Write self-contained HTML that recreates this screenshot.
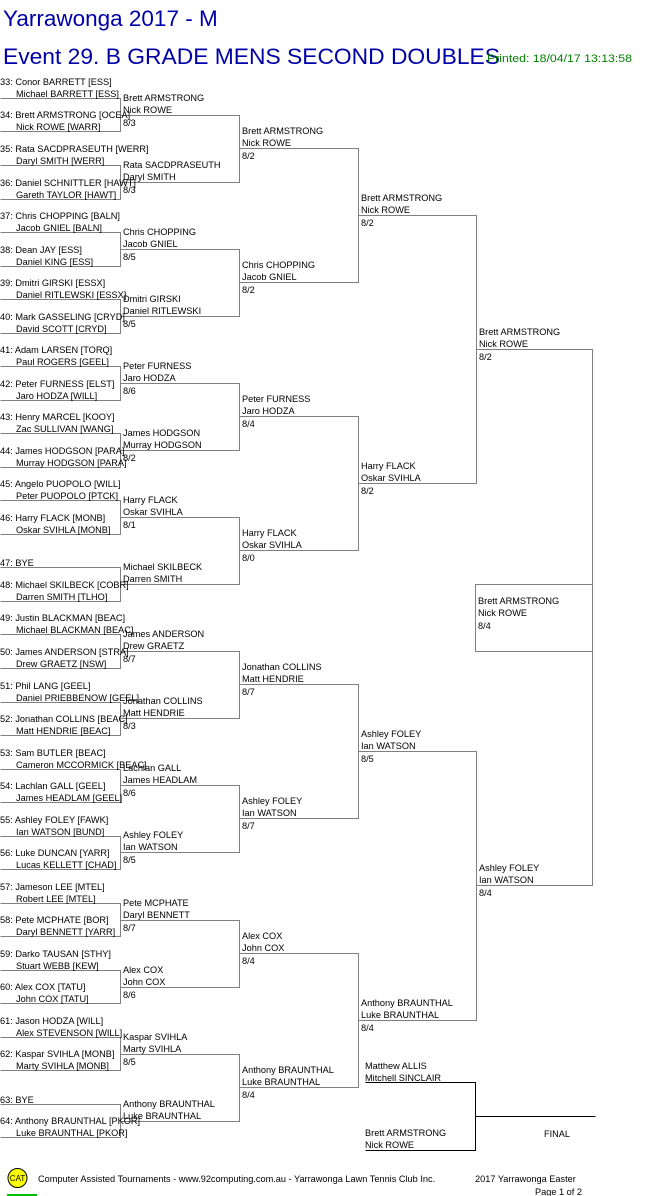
<!DOCTYPE html>
<html><head><meta charset="utf-8"><style>
html,body{margin:0;padding:0;background:#fff;width:661px;height:1196px;overflow:hidden}
svg{display:block}
text{font-family:"Liberation Sans",Arial,sans-serif;font-size:9.2px;fill:#000}
</style></head><body>
<svg width="661" height="1196" viewBox="0 0 661 1196" xmlns="http://www.w3.org/2000/svg">
<text x="3" y="26" style="font-size:22.5px;fill:#0000a8">Yarrawonga 2017 - M</text>
<text x="3" y="64" style="font-size:22px;fill:#0000a8" textLength="497" lengthAdjust="spacingAndGlyphs">Event 29. B GRADE MENS SECOND DOUBLES</text>
<text x="487" y="62" style="font-size:11px;fill:#008000" textLength="145" lengthAdjust="spacingAndGlyphs">Printed: 18/04/17 13:13:58</text>

<g transform="translate(0.5,0.5)" fill="none" stroke="#808080" stroke-width="1">
<path d="M0 98H120V131H0 M0 165H120V199H0 M0 232H120V266H0 M0 299H120V333H0 M0 366H120V400H0 M0 433H120V467H0 M0 500H120V534H0 M0 567H120V601H0 M0 634H120V668H0 M0 702H120V735H0 M0 769H120V802H0 M0 836H120V869H0 M0 903H120V936H0 M0 970H120V1003H0 M0 1037H120V1070H0 M0 1104H120V1137H0"/>
<path d="M120 115H239V182H120 M120 249H239V316H120 M120 383H239V450H120 M120 517H239V584H120 M120 651H239V718H120 M120 785H239V852H120 M120 920H239V987H120 M120 1054H239V1121H120"/>
<path d="M239 148H358V282H239 M239 416H358V550H239 M239 684H358V818H239 M239 953H358V1087H239"/>
<path d="M358 215H476V483H358 M358 751H476V1020H358"/>
<path d="M476 349H592V885H476"/>
<path d="M592 584H475V651H592"/>
</g>
<g transform="translate(0.5,0.5)" fill="none" stroke="#000" stroke-width="1">
<path d="M365 1082H475V1150H365 M475 1116H595"/>
</g>

<text x="0" y="85">33: Conor BARRETT [ESS]</text><text x="16" y="97">Michael BARRETT [ESS]</text>
<text x="0" y="118">34: Brett ARMSTRONG [OCEA]</text><text x="16" y="130">Nick ROWE [WARR]</text>
<text x="0" y="152">35: Rata SACDPRASEUTH [WERR]</text><text x="16" y="164">Daryl SMITH [WERR]</text>
<text x="0" y="186">36: Daniel SCHNITTLER [HAWT]</text><text x="16" y="198">Gareth TAYLOR [HAWT]</text>
<text x="0" y="219">37: Chris CHOPPING [BALN]</text><text x="16" y="231">Jacob GNIEL [BALN]</text>
<text x="0" y="253">38: Dean JAY [ESS]</text><text x="16" y="265">Daniel KING [ESS]</text>
<text x="0" y="286">39: Dmitri GIRSKI [ESSX]</text><text x="16" y="298">Daniel RITLEWSKI [ESSX]</text>
<text x="0" y="320">40: Mark GASSELING [CRYD]</text><text x="16" y="332">David SCOTT [CRYD]</text>
<text x="0" y="353">41: Adam LARSEN [TORQ]</text><text x="16" y="365">Paul ROGERS [GEEL]</text>
<text x="0" y="387">42: Peter FURNESS [ELST]</text><text x="16" y="399">Jaro HODZA [WILL]</text>
<text x="0" y="420">43: Henry MARCEL [KOOY]</text><text x="16" y="432">Zac SULLIVAN [WANG]</text>
<text x="0" y="454">44: James HODGSON [PARA]</text><text x="16" y="466">Murray HODGSON [PARA]</text>
<text x="0" y="487">45: Angelo PUOPOLO [WILL]</text><text x="16" y="499">Peter PUOPOLO [PTCK]</text>
<text x="0" y="521">46: Harry FLACK [MONB]</text><text x="16" y="533">Oskar SVIHLA [MONB]</text>
<text x="0" y="566">47: BYE</text>
<text x="0" y="588">48: Michael SKILBECK [COBR]</text><text x="16" y="600">Darren SMITH [TLHO]</text>
<text x="0" y="621">49: Justin BLACKMAN [BEAC]</text><text x="16" y="633">Michael BLACKMAN [BEAC]</text>
<text x="0" y="655">50: James ANDERSON [STRA]</text><text x="16" y="667">Drew GRAETZ [NSW]</text>
<text x="0" y="689">51: Phil LANG [GEEL]</text><text x="16" y="701">Daniel PRIEBBENOW [GEEL]</text>
<text x="0" y="722">52: Jonathan COLLINS [BEAC]</text><text x="16" y="734">Matt HENDRIE [BEAC]</text>
<text x="0" y="756">53: Sam BUTLER [BEAC]</text><text x="16" y="768">Cameron MCCORMICK [BEAC]</text>
<text x="0" y="789">54: Lachlan GALL [GEEL]</text><text x="16" y="801">James HEADLAM [GEEL]</text>
<text x="0" y="823">55: Ashley FOLEY [FAWK]</text><text x="16" y="835">Ian WATSON [BUND]</text>
<text x="0" y="856">56: Luke DUNCAN [YARR]</text><text x="16" y="868">Lucas KELLETT [CHAD]</text>
<text x="0" y="890">57: Jameson LEE [MTEL]</text><text x="16" y="902">Robert LEE [MTEL]</text>
<text x="0" y="923">58: Pete MCPHATE [BOR]</text><text x="16" y="935">Daryl BENNETT [YARR]</text>
<text x="0" y="957">59: Darko TAUSAN [STHY]</text><text x="16" y="969">Stuart WEBB [KEW]</text>
<text x="0" y="990">60: Alex COX [TATU]</text><text x="16" y="1002">John COX [TATU]</text>
<text x="0" y="1024">61: Jason HODZA [WILL]</text><text x="16" y="1036">Alex STEVENSON [WILL]</text>
<text x="0" y="1057">62: Kaspar SVIHLA [MONB]</text><text x="16" y="1069">Marty SVIHLA [MONB]</text>
<text x="0" y="1103">63: BYE</text>
<text x="0" y="1124">64: Anthony BRAUNTHAL [PKOR]</text><text x="16" y="1136">Luke BRAUNTHAL [PKOR]</text>

<text x="123" y="101">Brett ARMSTRONG</text><text x="123" y="113">Nick ROWE</text><text x="123" y="126">8/3</text>
<text x="123" y="168">Rata SACDPRASEUTH</text><text x="123" y="180">Daryl SMITH</text><text x="123" y="193">8/3</text>
<text x="123" y="235">Chris CHOPPING</text><text x="123" y="247">Jacob GNIEL</text><text x="123" y="260">8/5</text>
<text x="123" y="302">Dmitri GIRSKI</text><text x="123" y="314">Daniel RITLEWSKI</text><text x="123" y="327">8/5</text>
<text x="123" y="369">Peter FURNESS</text><text x="123" y="381">Jaro HODZA</text><text x="123" y="394">8/6</text>
<text x="123" y="436">James HODGSON</text><text x="123" y="448">Murray HODGSON</text><text x="123" y="461">8/2</text>
<text x="123" y="503">Harry FLACK</text><text x="123" y="515">Oskar SVIHLA</text><text x="123" y="528">8/1</text>
<text x="123" y="570">Michael SKILBECK</text><text x="123" y="582">Darren SMITH</text>
<text x="123" y="637">James ANDERSON</text><text x="123" y="649">Drew GRAETZ</text><text x="123" y="662">8/7</text>
<text x="123" y="704">Jonathan COLLINS</text><text x="123" y="716">Matt HENDRIE</text><text x="123" y="729">8/3</text>
<text x="123" y="771">Lachlan GALL</text><text x="123" y="783">James HEADLAM</text><text x="123" y="796">8/6</text>
<text x="123" y="838">Ashley FOLEY</text><text x="123" y="850">Ian WATSON</text><text x="123" y="863">8/5</text>
<text x="123" y="906">Pete MCPHATE</text><text x="123" y="918">Daryl BENNETT</text><text x="123" y="931">8/7</text>
<text x="123" y="973">Alex COX</text><text x="123" y="985">John COX</text><text x="123" y="998">8/6</text>
<text x="123" y="1040">Kaspar SVIHLA</text><text x="123" y="1052">Marty SVIHLA</text><text x="123" y="1065">8/5</text>
<text x="123" y="1107">Anthony BRAUNTHAL</text><text x="123" y="1119">Luke BRAUNTHAL</text>

<text x="242" y="134">Brett ARMSTRONG</text><text x="242" y="146">Nick ROWE</text><text x="242" y="159">8/2</text>
<text x="242" y="268">Chris CHOPPING</text><text x="242" y="280">Jacob GNIEL</text><text x="242" y="293">8/2</text>
<text x="242" y="402">Peter FURNESS</text><text x="242" y="414">Jaro HODZA</text><text x="242" y="427">8/4</text>
<text x="242" y="536">Harry FLACK</text><text x="242" y="548">Oskar SVIHLA</text><text x="242" y="561">8/0</text>
<text x="242" y="670">Jonathan COLLINS</text><text x="242" y="682">Matt HENDRIE</text><text x="242" y="695">8/7</text>
<text x="242" y="804">Ashley FOLEY</text><text x="242" y="816">Ian WATSON</text><text x="242" y="829">8/7</text>
<text x="242" y="939">Alex COX</text><text x="242" y="951">John COX</text><text x="242" y="964">8/4</text>
<text x="242" y="1073">Anthony BRAUNTHAL</text><text x="242" y="1085">Luke BRAUNTHAL</text><text x="242" y="1098">8/4</text>

<text x="361" y="201">Brett ARMSTRONG</text><text x="361" y="213">Nick ROWE</text><text x="361" y="226">8/2</text>
<text x="361" y="469">Harry FLACK</text><text x="361" y="481">Oskar SVIHLA</text><text x="361" y="494">8/2</text>
<text x="361" y="737">Ashley FOLEY</text><text x="361" y="749">Ian WATSON</text><text x="361" y="762">8/5</text>
<text x="361" y="1006">Anthony BRAUNTHAL</text><text x="361" y="1018">Luke BRAUNTHAL</text><text x="361" y="1031">8/4</text>

<text x="479" y="335">Brett ARMSTRONG</text><text x="479" y="347">Nick ROWE</text><text x="479" y="360">8/2</text>
<text x="479" y="871">Ashley FOLEY</text><text x="479" y="883">Ian WATSON</text><text x="479" y="896">8/4</text>

<text x="478" y="604">Brett ARMSTRONG</text><text x="478" y="616">Nick ROWE</text><text x="478" y="629">8/4</text>

<text x="365" y="1069">Matthew ALLIS</text><text x="365" y="1081">Mitchell SINCLAIR</text>
<text x="365" y="1136">Brett ARMSTRONG</text><text x="365" y="1148">Nick ROWE</text>
<text x="544" y="1137">FINAL</text>

<circle cx="17.5" cy="1178" r="9.5" fill="#ffff00" stroke="#000" stroke-width="1"/>
<text x="17.5" y="1181" text-anchor="middle" style="font-size:8px">CAT</text>
<rect x="7" y="1194" width="30" height="2" fill="#00c000"/>
<text x="38" y="1182">Computer Assisted Tournaments - www.92computing.com.au -  Yarrawonga Lawn Tennis Club Inc.</text>
<text x="475" y="1182">2017 Yarrawonga Easter</text>
<text x="535" y="1195">Page 1 of 2</text>
</svg>
</body></html>
